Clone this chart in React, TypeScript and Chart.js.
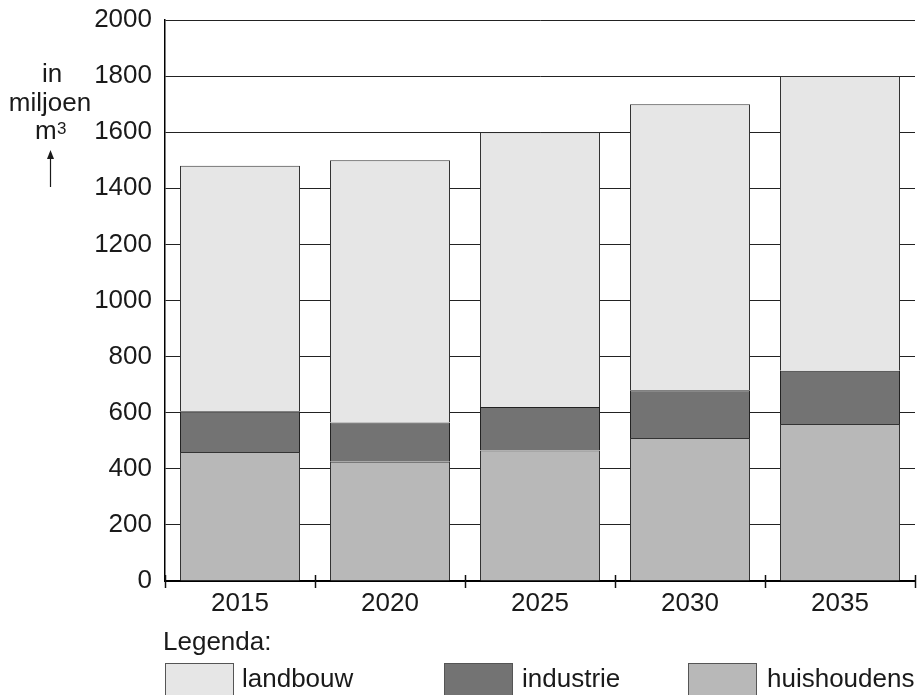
import React, { useEffect, useRef } from "react";
import { Chart, registerables } from "chart.js";

Chart.register(...registerables);

const categories = ["2015", "2020", "2025", "2030", "2035"];
const huishoudens = [460, 425, 465, 510, 560];
const industrie = [145, 140, 155, 170, 190];
const landbouw = [875, 935, 980, 1020, 1050];
const yTicks = [0, 200, 400, 600, 800, 1000, 1200, 1400, 1600, 1800, 2000];

const FONT = "'Liberation Sans', Arial, Helvetica, sans-serif";
const C_LAND = "#e6e6e6";
const C_IND = "#737373";
const C_HUIS = "#b8b8b8";
const TEXT = "#1a1a1a";

const overlay = {
  id: "overlay",
  afterDraw(chart: any) {
    const ctx = chart.ctx;
    const { left, right, bottom } = chart.chartArea;
    ctx.save();
    // x-axis tick marks at category boundaries
    ctx.strokeStyle = "#111";
    ctx.lineWidth = 1.5;
    const n = categories.length;
    for (let i = 0; i <= n; i++) {
      const x = Math.round(left + (i * (right - left)) / n) + 0.5;
      ctx.beginPath();
      ctx.moveTo(x, bottom - 6);
      ctx.lineTo(x, bottom + 7);
      ctx.stroke();
    }
    // y-axis title
    ctx.fillStyle = TEXT;
    ctx.textBaseline = "alphabetic";
    ctx.font = `26px ${FONT}`;
    ctx.textAlign = "center";
    ctx.fillText("in", 52, 82);
    ctx.fillText("miljoen", 50, 111);
    ctx.textAlign = "left";
    ctx.fillText("m", 35, 139);
    ctx.font = `17px ${FONT}`;
    ctx.fillText("3", 57, 134);
    // arrow
    ctx.strokeStyle = TEXT;
    ctx.lineWidth = 1.2;
    ctx.beginPath();
    ctx.moveTo(50.5, 187);
    ctx.lineTo(50.5, 156);
    ctx.stroke();
    ctx.beginPath();
    ctx.moveTo(50.5, 150);
    ctx.lineTo(47, 159);
    ctx.lineTo(54, 159);
    ctx.closePath();
    ctx.fill();
    // legend
    ctx.font = `26px ${FONT}`;
    ctx.fillText("Legenda:", 163, 650);
    const items = [
      { label: "landbouw", color: C_LAND, bx: 165, tx: 242 },
      { label: "industrie", color: C_IND, bx: 444, tx: 522 },
      { label: "huishoudens", color: C_HUIS, bx: 688, tx: 767 },
    ];
    items.forEach((it) => {
      ctx.fillStyle = it.color;
      ctx.fillRect(it.bx, 663, 68, 40);
      ctx.strokeStyle = "#555";
      ctx.lineWidth = 1;
      ctx.strokeRect(it.bx + 0.5, 663.5, 68, 40);
      ctx.fillStyle = TEXT;
      ctx.fillText(it.label, it.tx, 687);
    });
    ctx.restore();
  },
};

export default function App() {
  const ref = useRef<HTMLCanvasElement | null>(null);
  useEffect(() => {
    if (!ref.current) return;
    const chart = new Chart(ref.current, {
      type: "bar",
      data: {
        labels: categories,
        datasets: [
          { label: "huishoudens", data: huishoudens, backgroundColor: C_HUIS, borderColor: "#333", borderWidth: 1 },
          { label: "industrie", data: industrie, backgroundColor: C_IND, borderColor: "#222", borderWidth: 1 },
          { label: "landbouw", data: landbouw, backgroundColor: C_LAND, borderColor: "#333", borderWidth: 1 },
        ],
      },
      options: {
        responsive: false,
        animation: false,
        layout: { padding: { left: 0, right: 3, top: 20, bottom: 0 } },
        datasets: { bar: { categoryPercentage: 1, barPercentage: 0.8 } },
        plugins: { legend: { display: false }, tooltip: { enabled: false } },
        scales: {
          x: {
            stacked: true,
            grid: { display: false, drawTicks: false },
            border: { display: true, color: "#000", width: 2 },
            ticks: { color: TEXT, font: { family: FONT, size: 26 }, padding: 7 },
            afterFit: (s: any) => {
              s.height = 114;
              s.paddingLeft = 0;
              s.paddingRight = 0;
            },
          },
          y: {
            stacked: true,
            min: 0,
            max: 2000,
            afterBuildTicks: (s: any) => {
              s.ticks = yTicks.map((v) => ({ value: v }));
            },
            grid: { color: "#222", lineWidth: 1, drawTicks: false },
            border: { display: true, color: "#000", width: 1.5 },
            ticks: {
              color: TEXT,
              font: { family: FONT, size: 26 },
              padding: 13,
              callback: (v: any) => String(v),
            },
            afterFit: (s: any) => {
              s.width = 165;
              s.paddingTop = 0;
              s.paddingBottom = 0;
            },
          },
        },
      },
      plugins: [overlay],
    });
    return () => chart.destroy();
  }, []);
  return (
    <div style={{ position: "absolute", left: 0, top: 0, width: 918, height: 695, background: "#fff" }}>
      <canvas ref={ref} width={918} height={695} />
    </div>
  );
}
